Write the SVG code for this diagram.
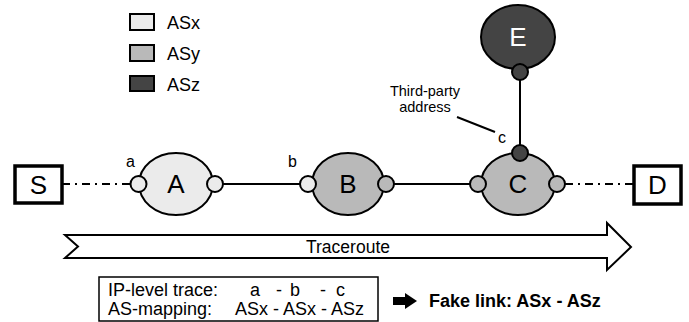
<svg xmlns="http://www.w3.org/2000/svg" width="689" height="322" viewBox="0 0 689 322">
  <style>
    text { font-family: "Liberation Sans", Arial, sans-serif; fill: #000; }
    .asx { fill: #ebebeb; }
    .asy { fill: #b9b9b9; }
    .asz { fill: #444444; }
    .node { stroke: #000; stroke-width: 2; }
    .port { stroke: #000; stroke-width: 2; }
    .box { fill: #fff; stroke: #000; stroke-width: 3.5; }
    .big { font-size: 26px; text-anchor: middle; }
    .lbl { font-size: 16px; }
    .link { stroke: #000; stroke-width: 2; fill: none; }
    .dashdot { stroke: #000; stroke-width: 1.8; fill: none; stroke-dasharray: 8 5 2 5; }
    .t18 { font-size: 18px; }
  </style>

  <!-- legend -->
  <g id="legend">
    <rect class="asx" x="130" y="14" width="24" height="16" stroke="#000" stroke-width="2"/>
    <rect class="asy" x="130" y="45" width="24" height="16" stroke="#000" stroke-width="2"/>
    <rect class="asz" x="130" y="76" width="24" height="15" stroke="#000" stroke-width="2"/>
    <text x="167" y="29" font-size="18">ASx</text>
    <text x="167" y="60" font-size="18">ASy</text>
    <text x="167" y="91" font-size="18">ASz</text>
  </g>

  <!-- connectors -->
  <g id="connectors">
    <line class="dashdot" x1="62" y1="184" x2="130" y2="184"/>
    <line class="link" x1="223" y1="184" x2="300" y2="184"/>
    <line class="link" x1="394" y1="184" x2="470" y2="184"/>
    <line class="dashdot" x1="565" y1="184" x2="633" y2="184"/>
    <line class="link" x1="520" y1="80" x2="520" y2="145"/>
    <line stroke="#000" stroke-width="2" x1="457" y1="117" x2="495" y2="132"/>
  </g>

  <g id="S">
    <rect class="box" x="15" y="166" width="47" height="37"/>
    <text class="big" x="38.5" y="194">S</text>
  </g>

  <g id="D">
    <rect class="box" x="634" y="166" width="47" height="38"/>
    <text class="big" x="657.5" y="194">D</text>
  </g>

  <g id="A">
    <ellipse class="asx node" cx="176" cy="184" rx="37" ry="31"/>
    <circle class="asx port" cx="138.5" cy="184" r="8"/>
    <circle class="asx port" cx="215" cy="184" r="8"/>
    <text class="big" x="176" y="193">A</text>
    <text class="lbl" x="126" y="167">a</text>
  </g>

  <g id="B">
    <ellipse class="asy node" cx="348" cy="184" rx="36" ry="31"/>
    <circle class="asx port" cx="308" cy="184" r="8"/>
    <circle class="asy port" cx="386" cy="184" r="8"/>
    <text class="big" x="348" y="193">B</text>
    <text class="lbl" x="288" y="167">b</text>
  </g>

  <g id="C">
    <ellipse class="asy node" cx="518" cy="184" rx="37" ry="31"/>
    <circle class="asy port" cx="478" cy="184" r="8"/>
    <circle class="asy port" cx="557" cy="184" r="8"/>
    <circle class="asz port" cx="520" cy="153" r="8"/>
    <text class="big" x="518" y="193">C</text>
    <text class="lbl" x="498" y="143">c</text>
    <text font-size="14.5" text-anchor="middle" x="425" y="96">Third-party</text>
    <text font-size="14.5" text-anchor="middle" x="425" y="112">address</text>
  </g>

  <g id="E">
    <ellipse class="asz node" cx="518" cy="37" rx="37" ry="32"/>
    <circle class="asz port" cx="520" cy="72" r="8"/>
    <text class="big" x="518" y="46" style="fill:#fff" font-size="25">E</text>
  </g>

  <g id="traceroute">
    <polygon points="65,235 607,235 607,223 631,247 607,270 607,258 65,258 78,246.5" fill="#fff" stroke="#000" stroke-width="2" stroke-linejoin="miter"/>
    <text x="348" y="253" font-size="17.5" text-anchor="middle">Traceroute</text>
  </g>

  <g id="trace-box">
    <rect x="99" y="277" width="279" height="44" fill="#fff" stroke="#000" stroke-width="1.5"/>
    <text class="t18" x="108" y="296">IP-level trace:</text>
    <text class="t18" y="296"><tspan x="250">a</tspan><tspan x="276">-</tspan><tspan x="290">b</tspan><tspan x="320">-</tspan><tspan x="336">c</tspan></text>
    <text class="t18" x="108" y="315">AS-mapping:</text>
    <text class="t18" x="235" y="315">ASx - ASx - ASz</text>
  </g>

  <g id="result">
    <polygon points="393,297 405,297 405,293 417,301 405,309 405,305 393,305" fill="#000"/>
    <text x="429" y="307" font-size="18" font-weight="bold">Fake link: ASx - ASz</text>
  </g>
</svg>
